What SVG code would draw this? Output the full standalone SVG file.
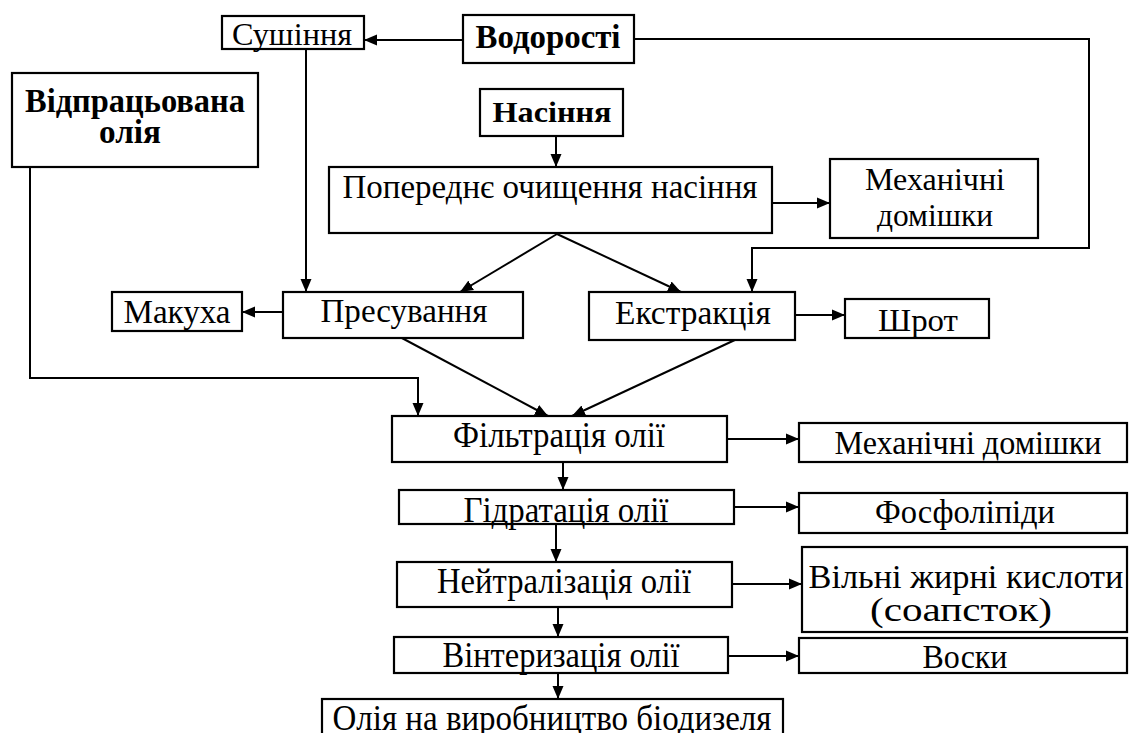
<svg xmlns="http://www.w3.org/2000/svg" width="1129" height="733" viewBox="0 0 1129 733">
<style>
.box{fill:#fff;stroke:#000;stroke-width:2.2}
.t{font-family:"Liberation Serif","Times New Roman",serif;fill:#000;text-anchor:middle}
.b{font-weight:bold}
.c{fill:none;stroke:#000;stroke-width:2}
</style>
<defs>
<marker id="ah" markerUnits="userSpaceOnUse" markerWidth="14" markerHeight="12" refX="13" refY="6" orient="auto">
<path d="M0,0.5 L13,6 L0,11.5 z" fill="#000"/>
</marker>
</defs>
<rect width="1129" height="733" fill="#fff"/>
<g id="connectors">
<path class="c" d="M463,40 H364" marker-end="url(#ah)"/>
<path class="c" d="M634,39 H1089 V248 H752 V292" marker-end="url(#ah)"/>
<path class="c" d="M306,49 V292" marker-end="url(#ah)"/>
<path class="c" d="M30,167 V378 H418 V416" marker-end="url(#ah)"/>
<path class="c" d="M556,136 V167" marker-end="url(#ah)"/>
<path class="c" d="M772,203 H830" marker-end="url(#ah)"/>
<path class="c" d="M557,234 L460,292" marker-end="url(#ah)"/>
<path class="c" d="M557,234 L681,292" marker-end="url(#ah)"/>
<path class="c" d="M283,312 H242" marker-end="url(#ah)"/>
<path class="c" d="M795,315 H845" marker-end="url(#ah)"/>
<path class="c" d="M400,337 L548,416" marker-end="url(#ah)"/>
<path class="c" d="M737,339 L572,416" marker-end="url(#ah)"/>
<path class="c" d="M563,462 V490" marker-end="url(#ah)"/>
<path class="c" d="M556,524 V562" marker-end="url(#ah)"/>
<path class="c" d="M558,607 V637" marker-end="url(#ah)"/>
<path class="c" d="M558,673 V699" marker-end="url(#ah)"/>
<path class="c" d="M727,439 H799" marker-end="url(#ah)"/>
<path class="c" d="M734,507 H799" marker-end="url(#ah)"/>
<path class="c" d="M732,584 H802" marker-end="url(#ah)"/>
<path class="c" d="M728,656 H799" marker-end="url(#ah)"/>
</g>
<g id="sushinnia"><rect class="box" x="222" y="16" width="142" height="33"/><text class="t" x="292" y="45" font-size="31" textLength="120" lengthAdjust="spacingAndGlyphs">Сушіння</text></g>
<g id="vodorosti"><rect class="box" x="463" y="15" width="171" height="48"/><text class="t b" x="548" y="48" font-size="33" textLength="145" lengthAdjust="spacingAndGlyphs">Водорості</text></g>
<g id="vidpratsovana"><rect class="box" x="12" y="73" width="246" height="94"/><text class="t b" x="135" y="112" font-size="34" textLength="220" lengthAdjust="spacingAndGlyphs">Відпрацьована</text><text class="t b" x="130" y="143" font-size="34" textLength="62" lengthAdjust="spacingAndGlyphs">олія</text></g>
<g id="nasinnia"><rect class="box" x="480" y="89" width="143" height="47"/><text class="t b" x="552" y="122" font-size="30" textLength="119" lengthAdjust="spacingAndGlyphs">Насіння</text></g>
<g id="poperednie"><rect class="box" x="329" y="167" width="443" height="66"/><text class="t" x="550" y="198" font-size="34" textLength="415" lengthAdjust="spacingAndGlyphs">Попереднє очищення насіння</text></g>
<g id="mekh1"><rect class="box" x="830" y="159" width="208" height="79"/><text class="t" x="935" y="190" font-size="32" textLength="140" lengthAdjust="spacingAndGlyphs">Механічні</text><text class="t" x="935" y="226" font-size="32" textLength="116" lengthAdjust="spacingAndGlyphs">домішки</text></g>
<g id="makukha"><rect class="box" x="112" y="292" width="130" height="39"/><text class="t" x="177" y="323" font-size="33" textLength="107" lengthAdjust="spacingAndGlyphs">Макуха</text></g>
<g id="presuvannia"><rect class="box" x="283" y="292" width="240" height="46"/><text class="t" x="404" y="322" font-size="33" textLength="167" lengthAdjust="spacingAndGlyphs">Пресування</text></g>
<g id="ekstraktsiia"><rect class="box" x="589" y="292" width="206" height="48"/><text class="t" x="693" y="324" font-size="33" textLength="156" lengthAdjust="spacingAndGlyphs">Екстракція</text></g>
<g id="shrot"><rect class="box" x="845" y="299" width="144" height="39"/><text class="t" x="918" y="331" font-size="31" textLength="80" lengthAdjust="spacingAndGlyphs">Шрот</text></g>
<g id="filtratsiia"><rect class="box" x="392" y="416" width="335" height="46"/><text class="t" x="559" y="447" font-size="35" textLength="212" lengthAdjust="spacingAndGlyphs">Фільтрація олії</text></g>
<g id="hidratatsiia"><rect class="box" x="399" y="490" width="335" height="34"/><text class="t" x="566" y="522" font-size="35" textLength="205" lengthAdjust="spacingAndGlyphs">Гідратація олії</text></g>
<g id="neitralizatsiia"><rect class="box" x="397" y="562" width="335" height="45"/><text class="t" x="564" y="593" font-size="35" textLength="254" lengthAdjust="spacingAndGlyphs">Нейтралізація олії</text></g>
<g id="vinteryzatsiia"><rect class="box" x="394" y="637" width="334" height="36"/><text class="t" x="561" y="667" font-size="35" textLength="237" lengthAdjust="spacingAndGlyphs">Вінтеризація олії</text></g>
<g id="oliia"><rect class="box" x="322" y="699" width="461" height="40"/><text class="t" x="552" y="730" font-size="35" textLength="439" lengthAdjust="spacingAndGlyphs">Олія на виробництво біодизеля</text></g>
<g id="mekh2"><rect class="box" x="799" y="423" width="328" height="39"/><text class="t" x="968" y="454" font-size="34" textLength="267" lengthAdjust="spacingAndGlyphs">Механічні домішки</text></g>
<g id="fosfolipidy"><rect class="box" x="799" y="493" width="328" height="40"/><text class="t" x="965" y="523" font-size="34" textLength="180" lengthAdjust="spacingAndGlyphs">Фосфоліпіди</text></g>
<g id="vilni"><rect class="box" x="802" y="547" width="325" height="85"/><text class="t" x="966" y="588" font-size="33" textLength="315" lengthAdjust="spacingAndGlyphs">Вільні жирні кислоти</text><text class="t" x="961" y="621" font-size="33" textLength="182" lengthAdjust="spacingAndGlyphs">(соапсток)</text></g>
<g id="voski"><rect class="box" x="799" y="638" width="328" height="35"/><text class="t" x="965" y="668" font-size="34" textLength="85" lengthAdjust="spacingAndGlyphs">Воски</text></g>
</svg>
